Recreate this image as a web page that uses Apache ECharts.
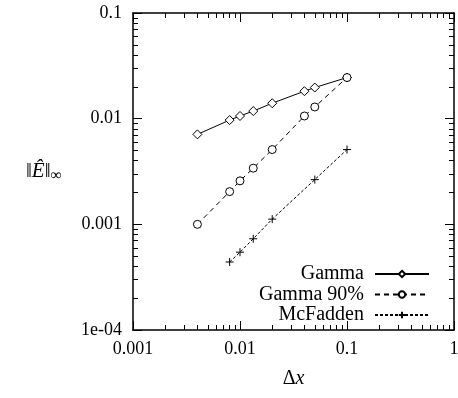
<!DOCTYPE html>
<html>
<head>
<meta charset="utf-8">
<script src="https://cdn.jsdelivr.net/npm/echarts@6/dist/echarts.min.js"></script>
<style>
    html, body { margin: 0; padding: 0; background: #fff; }
    #main { width: 458px; height: 398px; }
</style>
</head>
<body>
<div id="main"></div>
<script>
'use strict';

// data
let dxGamma = [0.004, 0.008, 0.01, 0.0133, 0.02, 0.04, 0.05, 0.1],
    errGamma = [0.0071, 0.0097, 0.0106, 0.0118, 0.014, 0.0182, 0.0197, 0.0245],
    errGamma90 = [0.001, 0.00204, 0.00258, 0.0034, 0.0051, 0.0106, 0.0129, 0.0245],
    dxMcFadden = [0.008, 0.01, 0.0133, 0.02, 0.05, 0.1],
    errMcFadden = [0.00044, 0.000545, 0.00073, 0.00112, 0.00265, 0.0051];

let seriesNames = ['Gamma', 'Gamma 90%', 'McFadden'];

// tick labels by decade
let xTicks = [0.001, 0.01, 0.1, 1],
    xTickLabels = ['0.001', '0.01', '0.1', '1'],
    yTicks = [0.0001, 0.001, 0.01, 0.1],
    yTickLabels = ['1e-04', '0.001', '0.01', '0.1'];

const FONT = '"Liberation Serif", "DejaVu Serif", serif';

function minorValues(from, to) {
    let arr = [];
    for (let e = from; e < to; e++) {
        for (let k = 2; k <= 9; k++) {
            arr.push(k * Math.pow(10, e));
        }
    }
    return arr;
}

function labelOf(ticks, labels) {
    return function (v) {
        let e = Math.round(Math.log10(v));
        for (let i = 0; i < ticks.length; i++) {
            if (Math.round(Math.log10(ticks[i])) === e) {
                return labels[i];
            }
        }
        return '';
    };
}

function pairs(xs, ys) {
    let arr = [];
    for (let i = 0; i < xs.length; i++) {
        arr.push([xs[i], ys[i]]);
    }
    return arr;
}

function tickAxis(pos, min, max, len, values, showLine) {
    return {
        type: 'log',
        logBase: 10,
        position: pos,
        min: min,
        max: max,
        axisLine: {show: showLine, lineStyle: {color: '#000', width: 1.5}},
        axisTick: {show: true, inside: true, length: len, customValues: values,
            lineStyle: {color: '#000', width: 1}},
        axisLabel: {show: false},
        splitLine: {show: false},
        minorTick: {show: false}
    };
}

let xMain = tickAxis('bottom', 0.001, 1, 9, xTicks, true);
xMain.axisLabel = {
    show: true, margin: 10, color: '#000', fontFamily: FONT, fontSize: 18,
    customValues: xTicks, formatter: labelOf(xTicks, xTickLabels)
};
xMain.name = '{d|Δ}{x|x}';
xMain.nameLocation = 'middle';
xMain.nameGap = 39;
xMain.nameTextStyle = {
    rich: {
        d: {fontFamily: FONT, fontSize: 20, color: '#000'},
        x: {fontFamily: FONT, fontSize: 20, fontStyle: 'italic', color: '#000'}
    }
};

let yMain = tickAxis('left', 0.0001, 0.1, 9, yTicks, true);
yMain.axisLabel = {
    show: true, margin: 11, color: '#000', fontFamily: FONT, fontSize: 18,
    customValues: yTicks, formatter: labelOf(yTicks, yTickLabels)
};
yMain.name = '{n|‖}{e|Ê}{n|‖}{s|∞}';
yMain.nameLocation = 'middle';
yMain.nameRotate = 0;
yMain.nameGap = 71;
yMain.nameTextStyle = {
    rich: {
        n: {fontFamily: FONT, fontSize: 21, color: '#000'},
        e: {fontFamily: FONT, fontSize: 21, fontStyle: 'italic', color: '#000'},
        s: {fontFamily: FONT, fontSize: 16, color: '#000', padding: [9, 0, 0, 0]}
    }
};

let option = {
    animation: false,
    backgroundColor: '#fff',
    grid: {left: 133, right: 4, top: 13, bottom: 68, containLabel: false, outerBoundsMode: 'none'},
    legend: {
        data: seriesNames,
        orient: 'vertical',
        right: 23,
        top: 259,
        align: 'right',
        itemWidth: 54,
        itemHeight: 8,
        itemGap: 0.5,
        textStyle: {fontFamily: FONT, fontSize: 20, color: '#000', lineHeight: 20, padding: [0, 6, 0, 0]}
    },
    xAxis: [
        xMain,
        tickAxis('bottom', 0.001, 1, 5, minorValues(-3, 0), false),
        tickAxis('top', 0.001, 1, 9, xTicks, true),
        tickAxis('top', 0.001, 1, 5, minorValues(-3, 0), false)
    ],
    yAxis: [
        yMain,
        tickAxis('left', 0.0001, 0.1, 5, minorValues(-4, -1), false),
        tickAxis('right', 0.0001, 0.1, 9, yTicks, true),
        tickAxis('right', 0.0001, 0.1, 5, minorValues(-4, -1), false)
    ],
    series: [
        {
            name: seriesNames[0],
            type: 'line',
            data: pairs(dxGamma, errGamma),
            symbol: 'diamond',
            symbolSize: 9,
            lineStyle: {color: '#000', width: 1, type: 'solid'},
            itemStyle: {color: '#fff', borderColor: '#000', borderWidth: 1}
        },
        {
            name: seriesNames[1],
            type: 'line',
            data: pairs(dxGamma, errGamma90),
            symbol: 'circle',
            symbolSize: 8,
            lineStyle: {color: '#000', width: 1, type: [5, 4]},
            itemStyle: {color: '#fff', borderColor: '#000', borderWidth: 1}
        },
        {
            name: seriesNames[2],
            type: 'line',
            data: pairs(dxMcFadden, errMcFadden),
            symbol: 'path://M0,5L10,5M5,0L5,10',
            symbolSize: 8,
            lineStyle: {color: '#000', width: 1, type: [3, 2]},
            itemStyle: {color: 'none', borderColor: '#000', borderWidth: 1}
        }
    ]
};

let myChart = echarts.init(document.getElementById('main'), null, {renderer: 'canvas'});
myChart.setOption(option);
</script>
</body>
</html>
